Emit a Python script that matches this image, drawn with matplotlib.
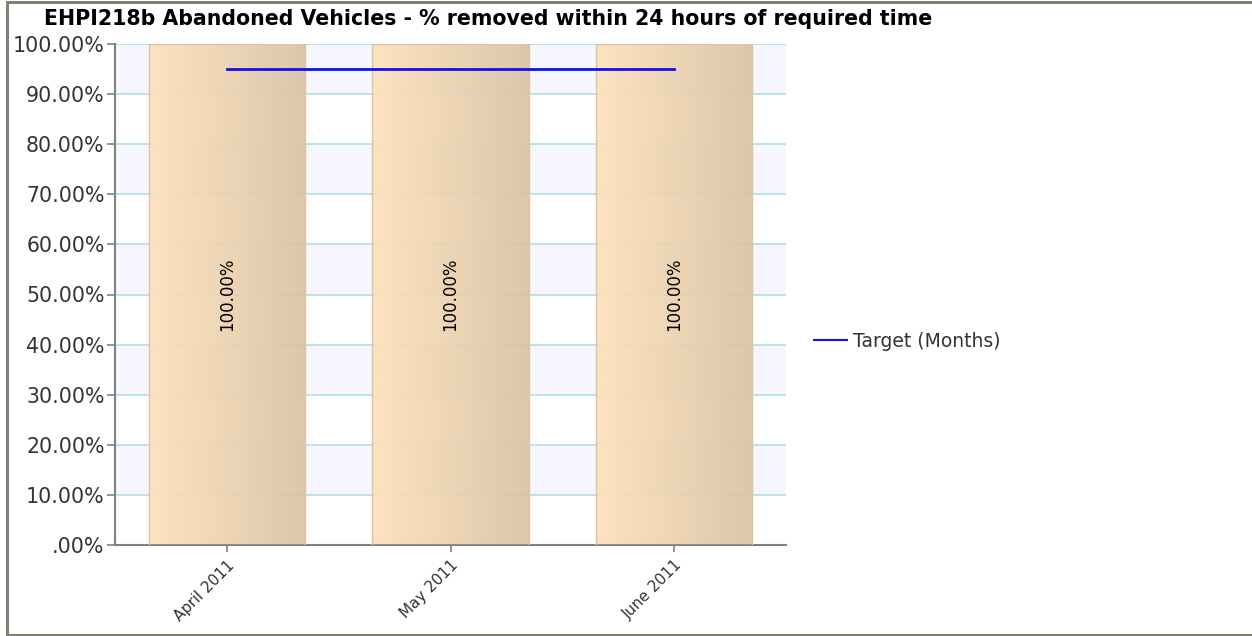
import numpy as np
import matplotlib
matplotlib.use("Agg")
import matplotlib.pyplot as plt
from matplotlib.colors import LinearSegmentedColormap
from matplotlib.lines import Line2D

title = "EHPI218b Abandoned Vehicles - % removed within 24 hours of required time"
categories = ["April 2011", "May 2011", "June 2011"]
values = [100.0, 100.0, 100.0]
target = [95.0, 95.0, 95.0]
bar_labels = ["100.00%", "100.00%", "100.00%"]
yticks = [0, 10, 20, 30, 40, 50, 60, 70, 80, 90, 100]
ytick_labels = [".00%", "10.00%", "20.00%", "30.00%", "40.00%", "50.00%",
                "60.00%", "70.00%", "80.00%", "90.00%", "100.00%"]
legend_label = "Target (Months)"

W, H = 1252, 636
fig = plt.figure(figsize=(W / 100, H / 100), dpi=100)
fig.patch.set_facecolor("white")

# outer border (top, left, bottom)
bc = "#7f7f74"
blw = 3 * 72 / 100
fig.add_artist(Line2D([6.5 / W, 1.01], [1 - 1.5 / H, 1 - 1.5 / H], transform=fig.transFigure,
                      color=bc, lw=blw))
fig.add_artist(Line2D([6.5 / W, 6.5 / W], [1 - 1.5 / H, 1 - 634.5 / H], transform=fig.transFigure,
                      color=bc, lw=blw))
fig.add_artist(Line2D([6.5 / W, 1.01], [1 - 634.5 / H, 1 - 634.5 / H], transform=fig.transFigure,
                      color=bc, lw=blw))

left, right, top, bottom = 115, 786, 44, 545
ax = fig.add_axes([left / W, 1 - bottom / H, (right - left) / W, (bottom - top) / H])

x = np.arange(len(categories))

# alternating bands
for i in range(0, 10):
    if i % 2 == 1:
        ax.axhspan(i * 10, (i + 1) * 10, color="#f6f7fe", zorder=0, lw=0)
for t in yticks[1:]:
    ax.axhline(t, color="#ade0e8", lw=1.2, zorder=1)

cmap = LinearSegmentedColormap.from_list("g", ["#fde1bc", "#dbc3a3"])
grad = np.linspace(0, 1, 256).reshape(1, -1)
bw = 0.7
bars = ax.bar(x, values, width=bw, color="none", edgecolor="#dcc3a2", linewidth=1, zorder=3)
for xi, v, b in zip(x, values, bars):
    im = ax.imshow(grad, cmap=cmap, aspect="auto", extent=[xi - bw / 2, xi + bw / 2, 0, v],
                   zorder=2, alpha=0.92, interpolation="bilinear")
    im.set_clip_path(b)
ax.set_xlim(-0.5, 2.5)
ax.set_ylim(0, 100)

for xi, v, lab in zip(x, values, bar_labels):
    ax.text(xi, v / 2, lab, rotation=90, ha="center", va="center", fontsize=12,
            color="black", zorder=5)

ax.plot(x, target, color="#1010f0", lw=2, zorder=4)

ax.set_yticks(yticks)
ax.set_yticklabels(ytick_labels, fontsize=14.8, color="#333333")
ax.set_xticks(x)
ax.set_xticklabels(categories, rotation=45, ha="right", rotation_mode="anchor",
                   fontsize=11, color="#333333")
ax.tick_params(axis="y", length=6, color="#808080", width=1.2, pad=1.5)
ax.tick_params(axis="x", length=5, color="#808080", width=1.2, pad=4)
for s in ["top", "right"]:
    ax.spines[s].set_visible(False)
for s in ["left", "bottom"]:
    ax.spines[s].set_color("#808080")
    ax.spines[s].set_linewidth(1.5)

fig.text(44 / W, 1 - 19 / H, title, fontsize=14.8, fontweight="bold", va="center", ha="left")

handle = Line2D([], [], color="#1010f0", lw=1.5)
fig.legend([handle], [legend_label], loc="center left", bbox_to_anchor=(797 / W, 1 - 341 / H),
           frameon=False, fontsize=13.5, handlelength=1.75, handletextpad=0.36,
           labelcolor="#333333")

fig.savefig("out.png", dpi=100, facecolor="white")
